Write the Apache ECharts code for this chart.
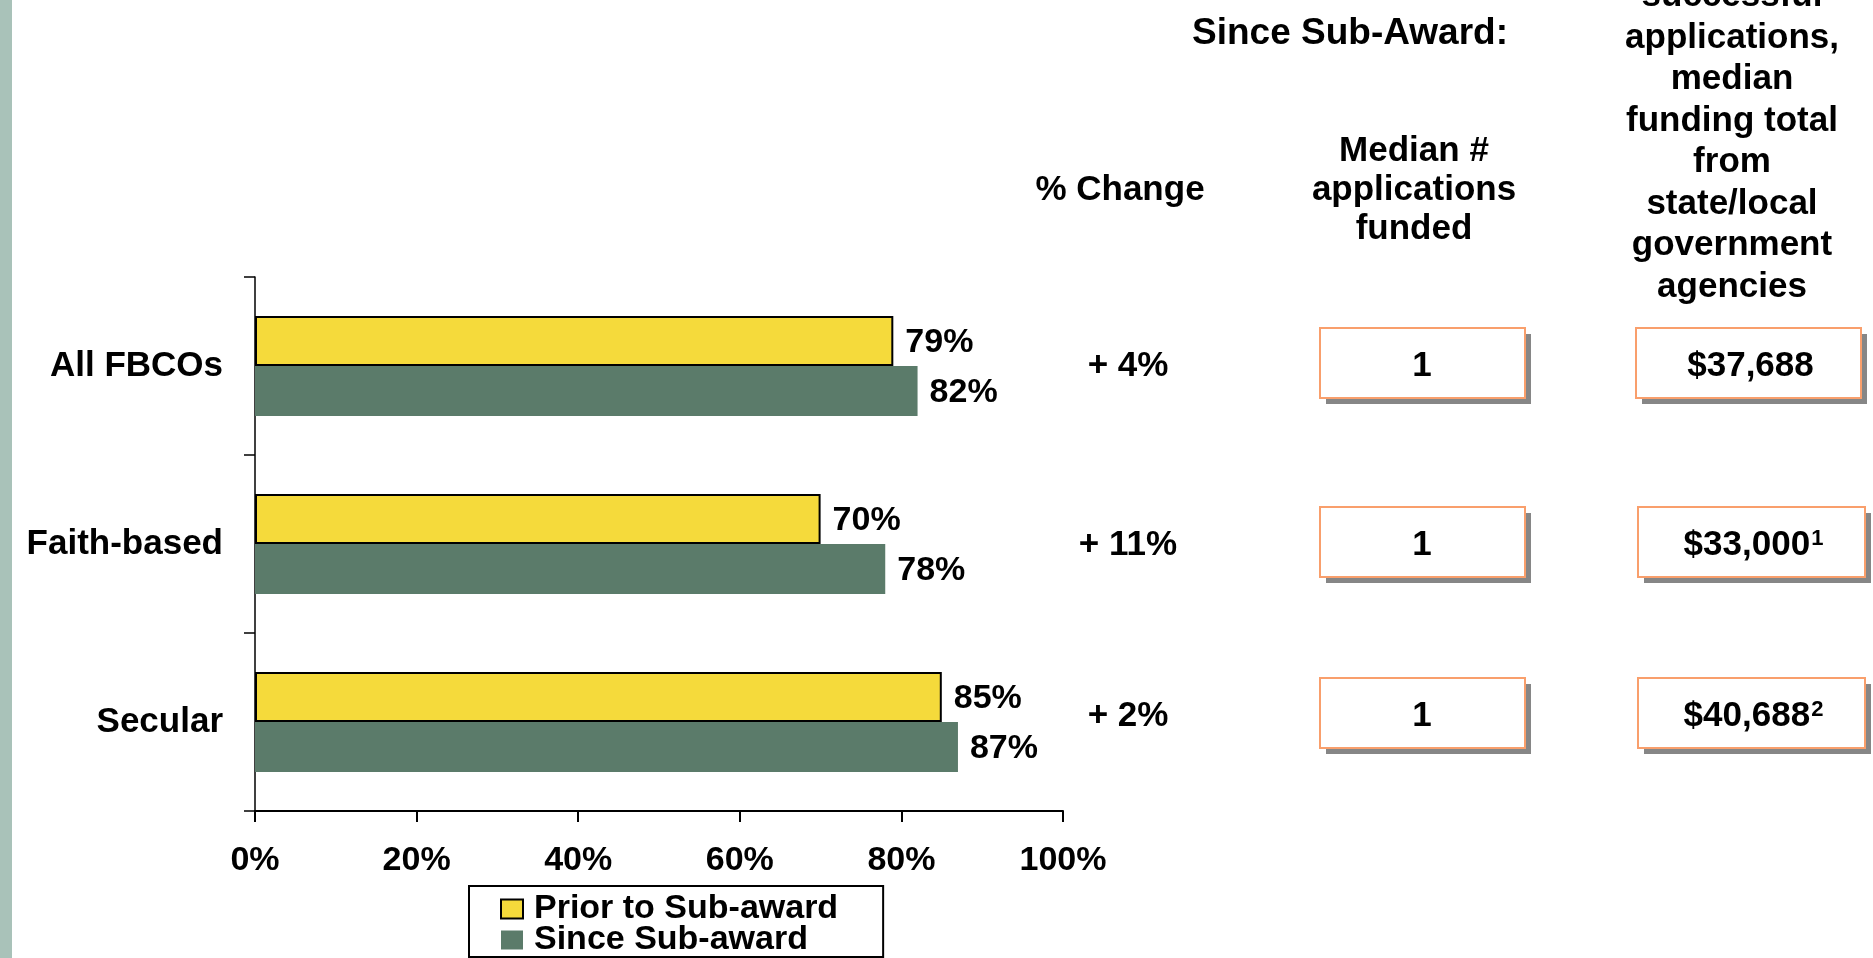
<!DOCTYPE html>
<html>
<head>
<meta charset="utf-8">
<script src="https://cdn.jsdelivr.net/npm/echarts@6/dist/echarts.min.js"></script>
<style>
  html, body { margin: 0; padding: 0; background: #ffffff; }
  #chart { width: 1873px; height: 958px; }
</style>
</head>
<body>
<div id="chart"></div>
<script>
// ---------- DATA ----------
const categories = ['All FBCOs', 'Faith-based', 'Secular'];
const seriesNames = ['Prior to Sub-award', 'Since Sub-award'];
const priorValues = [79, 70, 85];
const sinceValues = [82, 78, 87];
const xTickValues = [0, 20, 40, 60, 80, 100];
const pctChange = ['+ 4%', '+ 11%', '+ 2%'];
const medianApps = ['1', '1', '1'];
const medianFunding = ['$37,688', '$33,000', '$40,688'];
const fundingNotes = ['', '1', '2'];
const headerTitle = 'Since Sub-Award:';
const headerChange = '% Change';
const headerMedian = ['Median #', 'applications', 'funded'];
const headerFunding = ['successful', 'applications,', 'median', 'funding total', 'from', 'state/local', 'government', 'agencies'];

// ---------- LAYOUT / STYLE ----------
const FONT = '"Liberation Sans", Arial, sans-serif';
const FS = 34;
const YELLOW = '#f5da3b';
const GREEN = '#5b7b6a';
const ORANGE = '#f99f6c';
const SHADOW = '#868686';
const rowY = [363, 542, 713];
const textDY = 3;
const boxH = 70;
const col1 = { x: 1320, w: 205, cx: 1422 };
const col2 = [{ x: 1636, w: 225 }, { x: 1638, w: 227 }, { x: 1638, w: 227 }];
const changeX = 1128;

const chart = echarts.init(document.getElementById('chart'), null, { renderer: 'canvas' });

function txt(text, x, y, size, extra) {
  return {
    type: 'text',
    style: Object.assign({
      text: text, x: x, y: y,
      fontFamily: FONT, fontWeight: 'bold', fontSize: size,
      fill: '#000', align: 'center', verticalAlign: 'middle'
    }, extra || {})
  };
}

const graphics = [];
// left decorative stripe
graphics.push({ type: 'rect', shape: { x: 0, y: 0, width: 12, height: 958 }, style: { fill: '#a9c2b9' } });

// headers
graphics.push(txt(headerTitle, 1350, 34, 37));
graphics.push(txt(headerChange, 1120, 190, FS + 1));
graphics.push(txt(headerMedian.join('\n'), 1414, 190, FS + 1, { lineHeight: 39 }));
graphics.push(txt(headerFunding.join('\n'), 1732, 142, FS + 1, { lineHeight: 41.5 }));

// table rows
for (let i = 0; i < categories.length; i++) {
  const cy = rowY[i];
  const top = cy - boxH / 2;
  graphics.push(txt(pctChange[i], changeX, cy + textDY, FS + 1));
  // column 1 box
  graphics.push({ type: 'rect', shape: { x: col1.x + 6, y: top + 6, width: col1.w, height: boxH }, style: { fill: SHADOW } });
  graphics.push({ type: 'rect', shape: { x: col1.x, y: top, width: col1.w, height: boxH }, style: { fill: '#fff', stroke: ORANGE, lineWidth: 2 } });
  graphics.push(txt(medianApps[i], col1.cx, cy + textDY, FS + 1));
  // column 2 box
  const c2 = col2[i];
  graphics.push({ type: 'rect', shape: { x: c2.x + 6, y: top + 6, width: c2.w, height: boxH }, style: { fill: SHADOW } });
  graphics.push({ type: 'rect', shape: { x: c2.x, y: top, width: c2.w, height: boxH }, style: { fill: '#fff', stroke: ORANGE, lineWidth: 2 } });
  const richText = '{n|' + medianFunding[i] + '}' + (fundingNotes[i] ? '{s|' + fundingNotes[i] + '}' : '');
  graphics.push(txt(richText, c2.x + c2.w / 2 + 2, cy + textDY, FS + 1, {
    rich: {
      n: { fontFamily: FONT, fontWeight: 'bold', fontSize: FS + 1, fill: '#000', lineHeight: 36 },
      s: { fontFamily: FONT, fontWeight: 'bold', fontSize: 22, fill: '#000', verticalAlign: 'top', lineHeight: 22, padding: [1, 0, 0, 1] }
    }
  }));
}

const labelStyle = {
  show: true, position: 'right', distance: 12,
  formatter: '{c}%', color: '#000',
  fontFamily: FONT, fontWeight: 'bold', fontSize: FS, offset: [0, 2]
};

const option = {
  backgroundColor: '#ffffff',
  animation: false,
  grid: { left: 255, right: 810, top: 277, bottom: 147, containLabel: false },
  xAxis: {
    type: 'value', min: 0, max: 100, interval: 20,
    axisLine: { show: true, lineStyle: { color: '#000', width: 2 } },
    axisTick: { show: true, length: 11, lineStyle: { color: '#000', width: 2 } },
    splitLine: { show: false },
    axisLabel: {
      margin: 33, color: '#000', fontFamily: FONT, fontWeight: 'bold', fontSize: FS,
      formatter: function (v) { return xTickValues.indexOf(v) >= 0 ? v + '%' : ''; }
    }
  },
  yAxis: {
    type: 'category', inverse: true, data: categories,
    axisLine: { show: true, lineStyle: { color: '#000', width: 1.5 } },
    axisTick: { show: true, length: 11, lineStyle: { color: '#000', width: 1.5 } },
    axisLabel: { margin: 32, color: '#000', fontFamily: FONT, fontWeight: 'bold', fontSize: FS + 1, padding: [6, 0, 0, 0] }
  },
  legend: {
    orient: 'vertical', left: 469, top: 886, height: 65,
    itemWidth: 22, itemHeight: 19, itemGap: -3,
    padding: [6, 45, 0, 31],
    borderColor: '#000', borderWidth: 2, backgroundColor: '#fff',
    icon: 'rect',
    textStyle: { fontFamily: FONT, fontWeight: 'bold', fontSize: FS, color: '#000', lineHeight: 28, padding: [0, 0, 0, 6] },
    data: seriesNames
  },
  series: [
    {
      name: seriesNames[0], type: 'bar', data: priorValues,
      barWidth: 50, barGap: '0%',
      itemStyle: { color: YELLOW, borderColor: '#000', borderWidth: 2 },
      label: labelStyle
    },
    {
      name: seriesNames[1], type: 'bar', data: sinceValues,
      barWidth: 50, barGap: '0%',
      itemStyle: { color: GREEN },
      label: labelStyle
    }
  ],
  graphic: graphics
};
chart.setOption(option);
</script>
</body>
</html>
